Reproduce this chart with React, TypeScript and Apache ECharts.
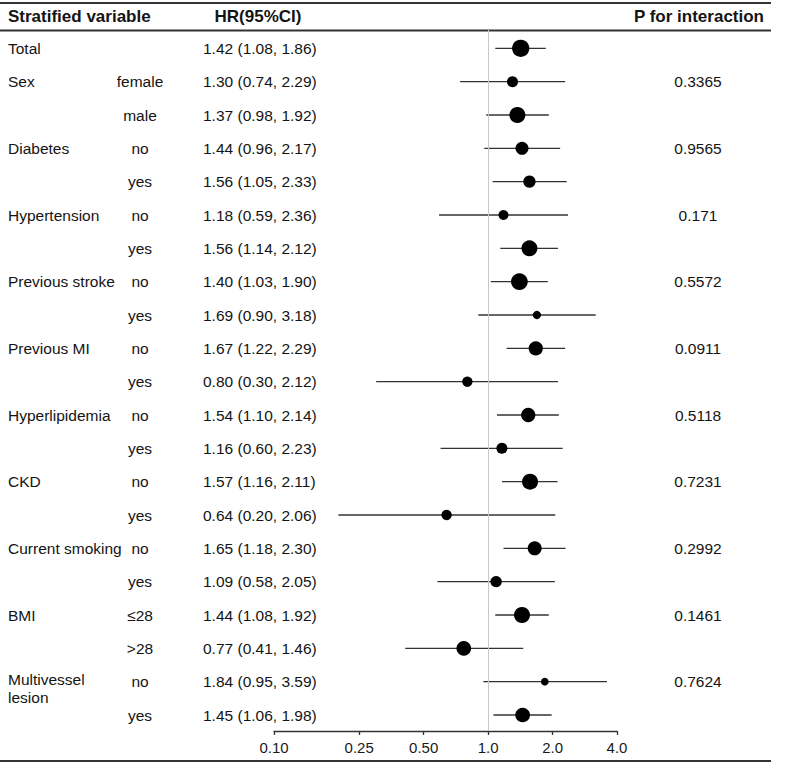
import React, { useEffect, useRef } from "react";
import * as echarts from "echarts";

const variables = ["Total", "Sex", "", "Diabetes", "", "Hypertension", "", "Previous stroke", "", "Previous MI", "", "Hyperlipidemia", "", "CKD", "", "Current smoking", "", "BMI", "", "Multivessel\nlesion", ""];
const subgroups = ["", "female", "male", "no", "yes", "no", "yes", "no", "yes", "no", "yes", "no", "yes", "no", "yes", "no", "yes", "≤28", ">28", "no", "yes"];
const hr = [1.42, 1.30, 1.37, 1.44, 1.56, 1.18, 1.56, 1.40, 1.69, 1.67, 0.80, 1.54, 1.16, 1.57, 0.64, 1.65, 1.09, 1.44, 0.77, 1.84, 1.45];
const lower = [1.08, 0.74, 0.98, 0.96, 1.05, 0.59, 1.14, 1.03, 0.90, 1.22, 0.30, 1.10, 0.60, 1.16, 0.20, 1.18, 0.58, 1.08, 0.41, 0.95, 1.06];
const upper = [1.86, 2.29, 1.92, 2.17, 2.33, 2.36, 2.12, 1.90, 3.18, 2.29, 2.12, 2.14, 2.23, 2.11, 2.06, 2.30, 2.05, 1.92, 1.46, 3.59, 1.98];
const pInteraction = ["", "0.3365", "", "0.9565", "", "0.171", "", "0.5572", "", "0.0911", "", "0.5118", "", "0.7231", "", "0.2992", "", "0.1461", "", "0.7624", ""];
const markerSize = [17.3, 11, 16, 13, 12.3, 10, 16, 16.7, 8.3, 14.3, 10.3, 14.3, 11, 16, 10.3, 14, 11.3, 16, 14.7, 7.7, 14.7];
const tickValues = [0.1, 0.25, 0.5, 1, 2, 4];
const tickLabels = ["0.10", "0.25", "0.50", "1.0", "2.0", "4.0"];
const headers = ["Stratified variable", "HR(95%CI)", "P for interaction"];

const FONT = "'Liberation Sans', Arial, sans-serif";

export default function App() {
  const ref = useRef<HTMLDivElement>(null);
  useEffect(() => {
    if (!ref.current) return;
    const chart = echarts.init(ref.current, undefined, { renderer: "svg" });
    const logTicks = tickValues.map((v) => Math.log10(v));
    const hrText = hr.map((h, i) => `${h.toFixed(2)} (${lower[i].toFixed(2)}, ${upper[i].toFixed(2)})`);
    const textStyleBase = { fontFamily: FONT, fontSize: 15.5, fill: "#141414" };
    const headStyle = { fontFamily: FONT, fontSize: 17, fontWeight: "bold", fill: "#141414", verticalAlign: "middle" };

    chart.setOption({
      animation: false,
      grid: { left: 274, right: 179, top: 30, bottom: 34, containLabel: false },
      xAxis: {
        type: "value",
        min: -1,
        max: Math.log10(4),
        axisLine: { show: true, onZero: false, lineStyle: { color: "#333", width: 1.3 } },
        axisTick: { show: true, length: 4, customValues: logTicks, lineStyle: { color: "#333", width: 1.3 } },
        axisLabel: {
          customValues: logTicks,
          fontFamily: FONT,
          fontSize: 15,
          color: "#1a1a1a",
          margin: 9,
          formatter: (v: number) => {
            let best = 0;
            logTicks.forEach((t, k) => {
              if (Math.abs(t - v) < Math.abs(logTicks[best] - v)) best = k;
            });
            return tickLabels[best];
          },
        },
        splitLine: { show: false },
      },
      yAxis: { type: "value", inverse: true, min: -0.55, max: 20.48, show: false },
      graphic: [
        { type: "line", shape: { x1: 0, y1: 3, x2: 771, y2: 3 }, style: { stroke: "#333", lineWidth: 2 } },
        { type: "line", shape: { x1: 0, y1: 30.5, x2: 771, y2: 30.5 }, style: { stroke: "#333", lineWidth: 2 } },
        { type: "line", shape: { x1: 0, y1: 761, x2: 771, y2: 761 }, style: { stroke: "#333", lineWidth: 2 } },
        { type: "text", x: 8, y: 16, style: { ...headStyle, text: headers[0], align: "left" } },
        { type: "text", x: 258, y: 16, style: { ...headStyle, text: headers[1], align: "center" } },
        { type: "text", x: 764, y: 16, style: { ...headStyle, text: headers[2], align: "right" } },
      ],
      series: [
        {
          type: "custom",
          name: "table",
          silent: true,
          clip: false,
          data: hr.map((_, i) => [0, i]),
          renderItem: (params: any, api: any) => {
            const i = api.value(1);
            const y = api.coord([0, i])[1];
            const children: any[] = [];
            const v = variables[i];
            if (v) {
              const multi = v.includes("\n");
              children.push({
                type: "text",
                x: 8,
                y: multi ? y - 11 : y,
                style: { ...textStyleBase, text: v, align: "left", verticalAlign: multi ? "top" : "middle", lineHeight: 18 },
              });
            }
            if (subgroups[i]) {
              children.push({ type: "text", x: 140, y, style: { ...textStyleBase, text: subgroups[i], align: "center", verticalAlign: "middle" } });
            }
            children.push({ type: "text", x: 203, y, style: { ...textStyleBase, text: hrText[i], align: "left", verticalAlign: "middle" } });
            if (pInteraction[i]) {
              children.push({ type: "text", x: 698, y, style: { ...textStyleBase, text: pInteraction[i], align: "center", verticalAlign: "middle" } });
            }
            return { type: "group", children };
          },
          z: 5,
        },
        {
          type: "custom",
          name: "CI",
          silent: true,
          data: hr.map((_, i) => [Math.log10(lower[i]), Math.log10(upper[i]), i]),
          encode: { x: [0, 1], y: 2 },
          renderItem: (params: any, api: any) => {
            const i = api.value(2);
            const p1 = api.coord([api.value(0), i]);
            const p2 = api.coord([api.value(1), i]);
            return {
              type: "line",
              shape: { x1: p1[0], y1: p1[1], x2: p2[0], y2: p2[1] },
              style: { stroke: "#333", lineWidth: 1.3 },
            };
          },
          markLine: {
            silent: true,
            symbol: "none",
            label: { show: false },
            lineStyle: { color: "#c8c8c8", width: 1, type: "solid" },
            data: [{ xAxis: 0 }],
          },
          z: 3,
        },
        {
          type: "scatter",
          name: "HR",
          silent: true,
          data: hr.map((h, i) => [Math.log10(h), i]),
          symbol: "circle",
          symbolSize: (_v: any, p: any) => markerSize[p.dataIndex],
          itemStyle: { color: "#000", opacity: 1 },
          z: 4,
        },
      ],
    });
    return () => chart.dispose();
  }, []);
  return <div ref={ref} style={{ position: "fixed", left: 0, top: 0, width: 796, height: 765, background: "#fff" }} />;
}
